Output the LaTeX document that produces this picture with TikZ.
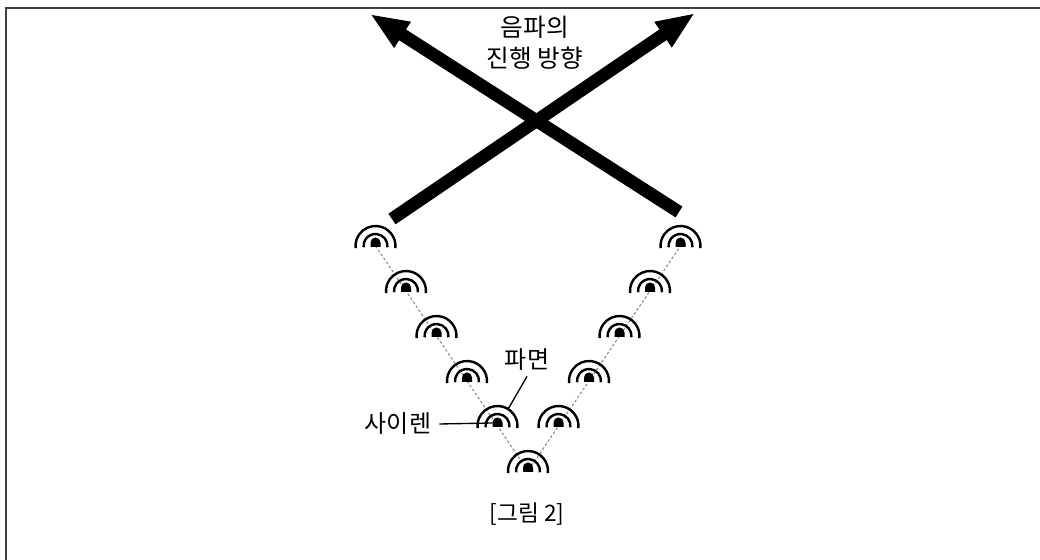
\documentclass[tikz,border=0pt]{standalone}
\usepackage{fontspec}
\setmainfont{Noto Sans CJK KR}
\usetikzlibrary{arrows.meta}
\definecolor{framegray}{HTML}{404040}
\definecolor{dotgray}{HTML}{8A8A8A}

\tikzset{
  siren/.pic={
    \fill (-5,-1) -- (-5,3.5) arc[start angle=180, end angle=0, radius=5] -- (5,-1) -- cycle;
    \draw[line width=1.8pt] (-6:12) arc[start angle=-6, end angle=186, radius=12];
    \draw[line width=1.8pt] (-6:20) arc[start angle=-6, end angle=186, radius=20];
  },
  wavedir/.style={line width=9.6pt, -{Triangle[length=29pt, width=21pt]}},
  label/.style={font=\fontsize{18pt}{22pt}\selectfont, inner sep=4pt},
}

\begin{document}
\begin{tikzpicture}[x=0.75pt, y=0.75pt]
\useasboundingbox (0,0) rectangle (1040,560);
\draw[framegray, line width=1.5pt] (6,0) -- (6,552) -- (1040,552);

\coordinate (A) at (528,89);
\foreach \k in {1,...,5} {
  \coordinate (L\k) at (528-30.5*\k, 89+45*\k);
  \coordinate (R\k) at (528+30.5*\k, 89+45*\k);
}
\draw[dotgray, line width=0.8pt, dash pattern=on 2pt off 1.6pt]
  (L5) -- (L4) -- (L3) -- (L2) -- (L1) -- (A) -- (R1) -- (R2) -- (R3) -- (R4) -- (R5);
\foreach \p in {A,L1,L2,L3,L4,L5,R1,R2,R3,R4,R5}
  \pic at (\p) {siren};

\coordinate (lstart) at (392,341);
\coordinate (rtip) at (695,547);
\coordinate (rstart) at (679,348);
\coordinate (ltip) at (370,546);
\draw[wavedir] (lstart) -- (rtip);
\draw[wavedir] (rstart) -- (ltip);

\node[label, align=center, font=\fontsize{18.5pt}{23pt}\selectfont] (dir) at (535,517) {음파의\\진행 방향};
\node[label] (wf) at (527,200) {파면};
\node[label, inner sep=6pt] (sr) at (398,136) {사이렌};
\coordinate (wfend) at ([shift={(58:20)}]L1);
\coordinate (srend) at ([shift={(-5,3)}]L1);
\draw[line width=1pt] (wf.south) -- (wfend);
\draw[line width=1pt] (sr.east) -- (srend);

\node[font=\fontsize{17pt}{20pt}\selectfont] (cap) at (527,46) {[그림 2]};
\end{tikzpicture}
\end{document}
